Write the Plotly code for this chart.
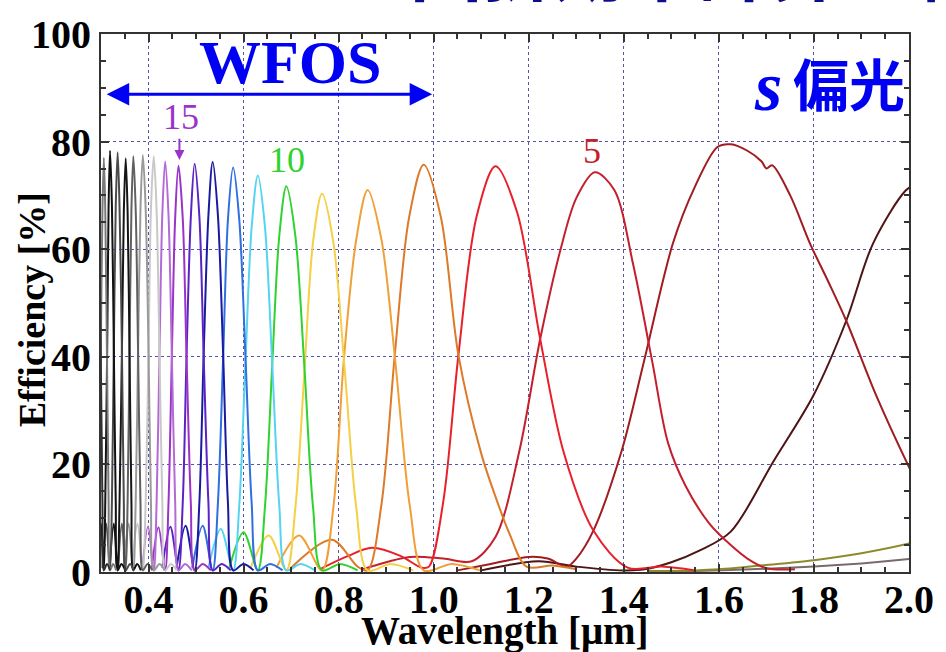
import plotly.graph_objects as go

# Diffraction efficiency (s-polarisation) per order: wavelength [um] and efficiency [%]
wl_3 = [1.10, 1.22, 1.30, 1.40, 1.444, 1.50, 1.56, 1.625, 1.715, 1.80, 1.868, 1.924, 1.993, 2.02]
eff_3 = [0.3, 2.0, 1.0, 0.3, 0.5, 1.8, 4.0, 7.5, 20.6, 33.0, 46.7, 61.0, 70.9, 72.5]

wl_4 = [1.05, 1.12, 1.20, 1.24, 1.28, 1.30, 1.336, 1.395, 1.442, 1.503, 1.549, 1.597, 1.625,
        1.66, 1.69, 1.700, 1.712, 1.75, 1.792, 1.83, 1.868, 1.93, 2.0, 2.02]
eff_4 = [0.3, 1.5, 2.8, 2.5, 1.0, 2.5, 7.7, 22.4, 39.0, 61.0, 71.5, 79.0, 79.5,
         78.3, 76.3, 75.0, 75.6, 70.0, 61.0, 54.0, 46.7, 33.0, 19.5, 16.0]

wl_5 = [0.85, 0.95, 1.02, 1.08, 1.13, 1.18, 1.224, 1.267, 1.30, 1.339, 1.38, 1.42, 1.46,
        1.493, 1.53, 1.58, 1.625, 1.66, 1.70, 1.76]
eff_5 = [0.5, 2.8, 2.5, 2.0, 6.5, 22.4, 43.3, 60.0, 69.5, 74.3, 71.0, 57.0, 39.0,
         24.0, 16.0, 9.0, 5.0, 2.5, 0.7, 0.5]

wl_6 = [0.76, 0.82, 0.87, 0.93, 0.975, 0.99, 1.02, 1.052, 1.09, 1.13, 1.175, 1.224, 1.273,
        1.336, 1.408, 1.48, 1.55]
eff_6 = [0.5, 3.0, 4.5, 3.0, 0.8, 1.0, 13.0, 40.3, 66.0, 75.4, 67.0, 43.3, 22.4,
         7.7, 0.8, 1.0, 0.3]

wl_7 = [0.70, 0.786, 0.84, 0.861, 0.890, 0.918, 0.948, 0.979, 1.015, 1.052, 1.10, 1.13,
        1.16, 1.195, 1.25, 1.30]
eff_7 = [0.8, 6.0, 1.0, 0.3, 12.5, 40.2, 65.8, 75.7, 66.0, 40.3, 22.0, 14.0,
         7.0, 1.0, 1.2, 0.5]

wl_8 = [0.669, 0.717, 0.765, 0.789, 0.811, 0.837, 0.861, 0.890, 0.918, 0.950, 0.979, 1.038, 1.097]
eff_8 = [0.8, 6.8, 0.3, 12.1, 39.6, 61.8, 71.0, 61.8, 40.2, 12.1, 0.3, 1.5, 0.3]

wl_9 = [0.615, 0.653, 0.690, 0.709, 0.728, 0.746, 0.765, 0.789, 0.813, 0.837, 0.861, 0.909, 0.957]
eff_9 = [0.8, 6.8, 0.3, 12.0, 37.3, 61.2, 70.3, 61.2, 37.3, 12.0, 0.3, 1.5, 0.3]

wl_10 = [0.570, 0.600, 0.630, 0.645, 0.660, 0.675, 0.690, 0.709, 0.728, 0.746, 0.765, 0.803, 0.840]
eff_10 = [0.8, 7.4, 0.3, 12.2, 38.0, 62.4, 71.7, 62.4, 38.0, 12.2, 0.3, 1.5, 0.3]

wl_11 = [0.526, 0.552, 0.578, 0.591, 0.604, 0.617, 0.630, 0.645, 0.660, 0.675, 0.690, 0.720, 0.750]
eff_11 = [0.8, 8.0, 0.3, 12.5, 39.1, 64.1, 73.7, 64.1, 39.1, 12.5, 0.3, 1.5, 0.3]

wl_12 = [0.492, 0.514, 0.535, 0.546, 0.557, 0.567, 0.578, 0.591, 0.604, 0.617, 0.630, 0.656, 0.682]
eff_12 = [0.8, 8.6, 0.3, 12.8, 39.9, 65.4, 75.2, 65.4, 39.9, 12.8, 0.3, 1.5, 0.3]

wl_13 = [0.459, 0.478, 0.497, 0.507, 0.516, 0.526, 0.535, 0.546, 0.557, 0.567, 0.578, 0.600, 0.621]
eff_13 = [0.8, 8.6, 0.3, 13.0, 40.4, 66.3, 76.2, 66.3, 40.4, 13.0, 0.3, 1.5, 0.3]

wl_14 = [0.429, 0.446, 0.463, 0.472, 0.480, 0.489, 0.497, 0.507, 0.516, 0.526, 0.535, 0.554, 0.573]
eff_14 = [0.8, 8.4, 0.3, 12.9, 40.2, 66.0, 75.9, 66.0, 40.2, 12.9, 0.3, 1.5, 0.3]

wl_15 = [0.407, 0.421, 0.435, 0.442, 0.449, 0.456, 0.463, 0.472, 0.480, 0.489, 0.497, 0.514, 0.531]
eff_15 = [0.8, 8.3, 0.3, 12.8, 40.0, 65.7, 75.5, 65.7, 40.0, 12.8, 0.3, 1.5, 0.3]

wl_16 = [0.387, 0.399, 0.411, 0.417, 0.423, 0.429, 0.435, 0.442, 0.449, 0.456, 0.463, 0.477, 0.491]
eff_16 = [0.8, 8.5, 0.3, 13.0, 40.4, 66.4, 76.3, 66.4, 40.4, 13.0, 0.3, 1.5, 0.3]

wl_17 = [0.365, 0.377, 0.388, 0.394, 0.400, 0.405, 0.411, 0.417, 0.423, 0.429, 0.435, 0.447, 0.459]
eff_17 = [0.8, 9.0, 0.3, 13.1, 41.0, 67.3, 77.3, 67.3, 41.0, 13.1, 0.3, 1.5, 0.3]

wl_18 = [0.348, 0.358, 0.368, 0.373, 0.378, 0.383, 0.388, 0.394, 0.400, 0.405, 0.411, 0.423, 0.434]
eff_18 = [0.8, 9.0, 0.3, 13.2, 41.1, 67.4, 77.5, 67.4, 41.1, 13.2, 0.3, 1.5, 0.3]

wl_19 = [0.336, 0.344, 0.352, 0.356, 0.360, 0.364, 0.368, 0.373, 0.378, 0.383, 0.388, 0.398, 0.408]
eff_19 = [0.8, 9.0, 0.3, 13.1, 41.0, 67.3, 77.3, 67.3, 41.0, 13.1, 0.3, 1.5, 0.3]

wl_20 = [0.318, 0.327, 0.335, 0.339, 0.344, 0.348, 0.352, 0.356, 0.360, 0.364, 0.368, 0.376, 0.384]
eff_20 = [0.8, 9.0, 0.3, 13.1, 40.8, 66.9, 76.9, 66.9, 40.8, 13.1, 0.3, 1.5, 0.3]

wl_21 = [0.303, 0.311, 0.319, 0.323, 0.327, 0.331, 0.335, 0.339, 0.344, 0.348, 0.352, 0.361, 0.369]
eff_21 = [0.8, 9.0, 0.3, 13.3, 41.3, 67.9, 78.0, 67.9, 41.3, 13.3, 0.3, 1.5, 0.3]

wl_22 = [0.293, 0.300, 0.306, 0.309, 0.313, 0.316, 0.319, 0.323, 0.327, 0.331, 0.335, 0.343, 0.351]
eff_22 = [0.8, 9.0, 0.3, 13.3, 41.5, 68.1, 78.3, 68.1, 41.5, 13.3, 0.3, 1.5, 0.3]

wl_23 = [0.280, 0.2865, 0.293, 0.296, 0.2995, 0.303, 0.306, 0.309, 0.3125, 0.316, 0.319, 0.3255, 0.332]
eff_23 = [0.8, 9.0, 0.3, 13.1, 40.8, 67.0, 77.0, 67.0, 40.8, 13.1, 0.3, 1.5, 0.3]

wl_24 = [0.281, 0.287, 0.293, 0.296, 0.2995, 0.303, 0.306, 0.3125, 0.319]
eff_24 = [0.3, 40.8, 77.0, 67.0, 40.8, 13.1, 0.3, 1.5, 0.3]

# weak long-wavelength traces
wl_weak_a = [1.45, 1.55, 1.60, 1.70, 1.80, 1.90, 2.00, 2.02]
eff_weak_a = [0.2, 0.3, 0.5, 1.3, 2.2, 3.5, 5.3, 5.8]
wl_weak_b = [1.45, 1.55, 1.70, 1.80, 1.90, 2.00, 2.02]
eff_weak_b = [0.1, 0.2, 0.6, 1.0, 1.6, 2.4, 2.6]

# tick labels
x_ticks = [0.4, 0.6, 0.8, 1.0, 1.2, 1.4, 1.6, 1.8, 2.0]
y_ticks = [0, 20, 40, 60, 80, 100]

series = {
    3: (wl_3, eff_3), 4: (wl_4, eff_4), 5: (wl_5, eff_5), 6: (wl_6, eff_6),
    7: (wl_7, eff_7), 8: (wl_8, eff_8), 9: (wl_9, eff_9), 10: (wl_10, eff_10),
    11: (wl_11, eff_11), 12: (wl_12, eff_12), 13: (wl_13, eff_13), 14: (wl_14, eff_14),
    15: (wl_15, eff_15), 16: (wl_16, eff_16), 17: (wl_17, eff_17), 18: (wl_18, eff_18),
    19: (wl_19, eff_19), 20: (wl_20, eff_20), 21: (wl_21, eff_21), 22: (wl_22, eff_22),
    23: (wl_23, eff_23), 24: (wl_24, eff_24),
}

colors = {
    3: "#4e1414", 4: "#a11c1f", 5: "#c41f2c", 6: "#e8202a", 7: "#dc7a2a",
    8: "#f0a038", 9: "#f5cf48", 10: "#2fd22f", 11: "#55d4f2", 12: "#2f6fe0",
    13: "#1a1aa0", 14: "#5a24c4", 15: "#9a34c8", 16: "#b46ad6", 17: "#c8c8c8",
    18: "#9a9a9a", 19: "#606060", 20: "#151515", 21: "#4a4a4a", 22: "#111111",
    23: "#7a7a7a", 24: "#303030",
}

SERIF = "Liberation Serif"
BLUE = "#0000f2"

fig = go.Figure()

fig.add_trace(go.Scatter(x=wl_weak_b, y=eff_weak_b, mode="lines",
                         line=dict(color="#7a6a6a", width=2, shape="spline", smoothing=0.8),
                         hoverinfo="skip"))
fig.add_trace(go.Scatter(x=wl_weak_a, y=eff_weak_a, mode="lines",
                         line=dict(color="#8c8a2c", width=2, shape="spline", smoothing=0.8),
                         hoverinfo="skip"))

for order in sorted(series):
    wl, eff = series[order]
    fig.add_trace(go.Scatter(
        x=wl, y=eff, mode="lines", name=f"m={order}",
        line=dict(color=colors[order], width=2, shape="spline", smoothing=0.9),
    ))

axis_common = dict(
    ticks="inside", ticklen=8, tickwidth=1.5, tickcolor="#333333",
    showline=True, linecolor="#333333", linewidth=2, mirror="ticks",
    showgrid=True, gridcolor="#5656a6", griddash="dot", gridwidth=1,
    zeroline=False,
    tickfont=dict(family=SERIF, size=40, color="black", weight="bold"),
)

fig.update_xaxes(range=[0.3, 2.0], tickvals=x_ticks,
                 ticktext=[f"{v:.1f}" for v in x_ticks],
                 ticklabelstandoff=-9,
                 minor=dict(tick0=0.3, dtick=0.05, ticks="inside", ticklen=5,
                            tickcolor="#333333", showgrid=False),
                 **axis_common)
fig.update_yaxes(range=[0, 100], tickvals=y_ticks,
                 ticktext=[str(v) for v in y_ticks],
                 minor=dict(tick0=0, dtick=5, ticks="inside", ticklen=5,
                            tickcolor="#333333", showgrid=False),
                 **axis_common)


def note(text, x, y, size, color, family=SERIF, bold=True, ref="paper", **kw):
    return dict(text=text, x=x, y=y, xref=ref, yref=ref, showarrow=False,
                xanchor="center", yanchor=kw.pop("yanchor", "middle"),
                font=dict(family=family, size=size, color=color,
                          weight="bold" if bold else "normal"), **kw)


annotations = [
    # axis titles
    note("Efficiency [%]", -0.085, 0.487, 38, "black", textangle=-90),
    note("Wavelength [μm]", 0.50, -0.11, 39, "black"),
    # heading (runs off the top of the page)
    note("VPHによる回折効率計算の結果", 0.56, 1.0295, 72, "#0c0c8c",
         family="Noto Sans CJK JP", yanchor="bottom"),
    # WFOS range
    note("WFOS", 0.234, 0.948, 62, BLUE),
    dict(text="", x=0.312, y=88.8, ax=1.0, ay=88.8, xref="x", yref="y",
         axref="x", ayref="y", showarrow=True, arrowhead=2, arrowside="end+start",
         arrowsize=1.5, arrowwidth=3, arrowcolor=BLUE),
    # polarisation
    note("<i>s</i>", 0.826, 0.903, 70, BLUE),
    note("偏光", 0.926, 0.911, 56, BLUE, family="Noto Sans CJK JP"),
    # order labels
    note("15", 0.469, 84.5, 36, "#9a34c8", bold=False, ref="data"),
    dict(text="", x=0.465, y=76.6, ax=0.465, ay=80.8, xref="x", yref="y",
         axref="x", ayref="y", showarrow=True, arrowhead=2, arrowsize=1,
         arrowwidth=2, arrowcolor="#9a34c8"),
    note("10", 0.692, 76.6, 36, "#2fd22f", bold=False, ref="data"),
    note("5", 1.334, 78.2, 36, "#c41f2c", bold=False, ref="data"),
]
for a in annotations:
    if a.get("xref") == "data":
        a["xref"], a["yref"] = "x", "y"

fig.update_layout(
    width=946, height=652,
    margin=dict(l=101, r=29, t=29, b=80),
    plot_bgcolor="white", paper_bgcolor="white",
    showlegend=False,
    annotations=annotations,
)

fig.write_html("out.html")
